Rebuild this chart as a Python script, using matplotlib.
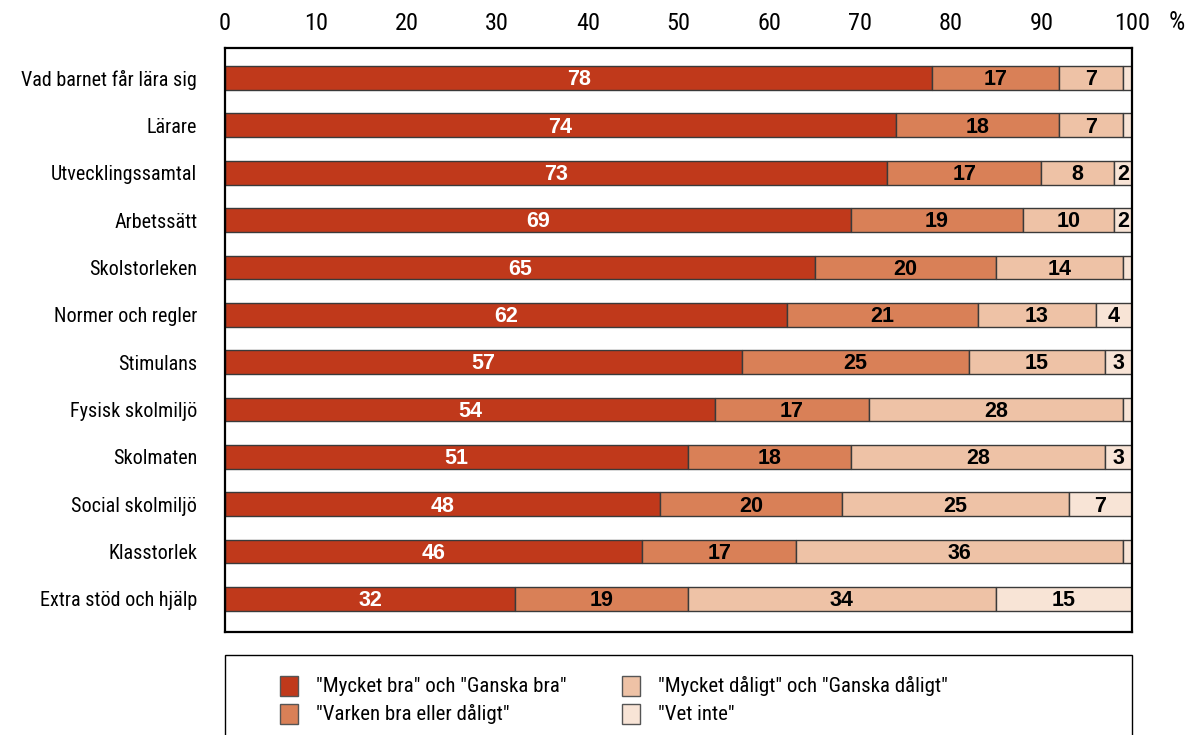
import matplotlib
matplotlib.use("Agg")
import matplotlib.pyplot as plt
from matplotlib import font_manager
from matplotlib.patches import Rectangle

def pick(fams):
    for f in fams:
        try:
            font_manager.findfont(f, fallback_to_default=False)
            return f
        except Exception:
            pass
    return "DejaVu Sans"

NARROW = pick(["Liberation Sans Narrow", "Roboto Condensed", "Roboto", "Liberation Sans"])
BOLD = pick(["Liberation Sans", "Arial", "DejaVu Sans"])

categories = ["Vad barnet får lära sig", "Lärare", "Utvecklingssamtal", "Arbetssätt",
              "Skolstorleken", "Normer och regler", "Stimulans", "Fysisk skolmiljö",
              "Skolmaten", "Social skolmiljö", "Klasstorlek", "Extra stöd och hjälp"]
bra = [78, 74, 73, 69, 65, 62, 57, 54, 51, 48, 46, 32]
varken = [14, 18, 17, 19, 20, 21, 25, 17, 18, 20, 17, 19]
varken_labels = [17, 18, 17, 19, 20, 21, 25, 17, 18, 20, 17, 19]
daligt = [7, 7, 8, 10, 14, 13, 15, 28, 28, 25, 36, 34]
vet_inte = [1, 1, 2, 2, 1, 4, 3, 1, 3, 7, 1, 15]
series_names = ['"Mycket bra" och "Ganska bra"', '"Varken bra eller dåligt"',
                '"Mycket dåligt" och "Ganska dåligt"', '"Vet inte"']
colors = ["#C0391B", "#D98057", "#EEC2A6", "#F8E4D6"]
xticks = [0, 10, 20, 30, 40, 50, 60, 70, 80, 90, 100]

fig = plt.figure(figsize=(11.92, 7.35), dpi=100)
ax = fig.add_axes([225/1192, 1-632/735, (1132-225)/1192, (632-48)/735])

series = [bra, varken, daligt, vet_inte]
labels = [bra, varken_labels, daligt, vet_inte]
y = list(range(len(categories)))
left = [0]*len(categories)
for k, (vals, labs) in enumerate(zip(series, labels)):
    ax.barh(y, vals, left=left, height=0.5, color=colors[k], edgecolor="#3a3a3a",
            linewidth=1.0, zorder=2)
    for i in range(len(categories)):
        v = vals[i]
        if labs[i] >= 2:
            ax.text(left[i] + v/2, y[i] + 0.04, str(labs[i]), ha="center", va="center",
                    fontsize=15.5, fontweight="bold", family=BOLD,
                    color="white" if k == 0 else "black", zorder=3)
    left = [l + v for l, v in zip(left, vals)]

ax.set_xlim(0, 100)
ax.set_ylim(11.70, -0.633)
ax.set_yticks(y)
ax.set_yticklabels(categories, family=NARROW, fontsize=14.5)
ax.xaxis.tick_top()
ax.set_xticks(xticks)
ax.set_xticklabels([str(t) for t in xticks], family=NARROW, fontsize=17.5)
ax.tick_params(axis="both", length=0)
ax.tick_params(axis="x", pad=9)
ax.tick_params(axis="y", pad=20)
for s in ax.spines.values():
    s.set_linewidth(1.6)
    s.set_color("black")
fig.text(1177/1192, 1-23/735, "%", family=NARROW, fontsize=18.5, ha="center", va="center")

# legend box
fig.patches.append(Rectangle((225/1192, -0.05), (1132-225)/1192, (0.05 + 1-655/735),
                             transform=fig.transFigure, facecolor="white",
                             edgecolor="black", linewidth=1.0, zorder=1))
pos = [(280, 686), (280, 714), (622, 686), (622, 714)]
for k, (px, py) in enumerate(pos):
    fig.patches.append(Rectangle((px/1192, 1-(py+10)/735), 18/1192, 20/735,
                                 transform=fig.transFigure, facecolor=colors[k],
                                 edgecolor="#555555", linewidth=1.0, zorder=2))
    fig.text((px+36)/1192, 1-py/735, series_names[k], family=NARROW, fontsize=15,
             ha="left", va="center", zorder=3)

fig.savefig("out.png", dpi=100)
